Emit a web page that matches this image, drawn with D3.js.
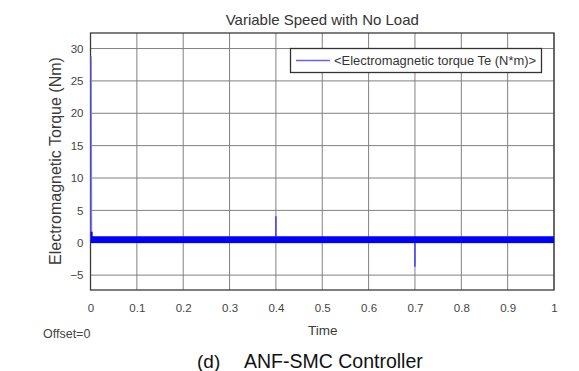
<!DOCTYPE html>
<html><head><meta charset="utf-8">
<script src="https://cdn.jsdelivr.net/npm/d3@7/dist/d3.min.js"></script>
<style>
html,body{margin:0;padding:0;background:#fff;}
text{font-family:"Liberation Sans",Arial,sans-serif;}
</style></head>
<body><svg id="c" width="579" height="371"></svg>
<script>
// ---- data ----
const title = "Variable Speed with No Load";
const xLabel = "Time";
const yLabel = "Electromagnetic Torque (Nm)";
const legendLabel = "<Electromagnetic torque Te (N*m)>";
const caption = ["(d)", "ANF-SMC Controller"];
const offsetLabel = "Offset=0";
const xTicks = [0, 0.1, 0.2, 0.3, 0.4, 0.5, 0.6, 0.7, 0.8, 0.9, 1];
const yTicks = [-5, 0, 5, 10, 15, 20, 25, 30];
const xDomain = [0, 1];
const yDomain = [-7.3, 32.4];
// steady-state ripple band (envelope of the fast oscillation)
const bandTime = [0.002, 0.2, 0.4, 0.6, 0.8, 1.0];
const bandLow  = [-0.05, -0.05, -0.05, -0.05, -0.05, -0.05];
const bandHigh = [1.0, 1.0, 1.0, 1.0, 1.0, 1.0];
// start-up transient
const startTime   = [0.0015, 0.0015, 0.0025, 0.003];
const startTorque = [0.4, 28.8, 1.7, 1.6];
// speed-change spikes
const spikeTime = [0.4, 0.7];
const spikePeak = [4.1, -3.7];

// ---- chart ----
const svg = d3.select("#c");
const L = 90.5, R = 554, T = 33, B = 290;
const x = d3.scaleLinear().domain(xDomain).range([L, R]);
const y = d3.scaleLinear().domain(yDomain).range([B, T]);

// grid
const g = svg.append("g");
g.selectAll(".gx").data(xTicks).join("line")
  .attr("x1", d => x(d)).attr("x2", d => x(d)).attr("y1", T).attr("y2", B)
  .attr("stroke", "#808080").attr("stroke-width", 1);
g.selectAll(".gy").data(yTicks).join("line")
  .attr("y1", d => y(d)).attr("y2", d => y(d)).attr("x1", L).attr("x2", R)
  .attr("stroke", "#808080").attr("stroke-width", 1);

// axes labels via d3 axes (no domain lines)
const xAxis = svg.append("g").attr("transform", `translate(0,${B})`)
  .call(d3.axisBottom(x).tickValues(xTicks).tickSize(0).tickPadding(14)
    .tickFormat(d => d === 0 || d === 1 ? d3.format("d")(d) : d3.format(".1f")(d)));
xAxis.select(".domain").remove();
xAxis.selectAll("text").attr("font-size", 11.5).attr("fill", "#444")
  .attr("font-family", '"Liberation Sans",Arial,sans-serif');

const yAxis = svg.append("g").attr("transform", `translate(${L},0)`)
  .call(d3.axisLeft(y).tickValues(yTicks).tickSize(0).tickPadding(7));
yAxis.select(".domain").remove();
yAxis.selectAll("text").attr("font-size", 11.5).attr("fill", "#444")
  .attr("font-family", '"Liberation Sans",Arial,sans-serif');

// box
svg.append("rect").attr("x", L).attr("y", T).attr("width", R - L).attr("height", B - T)
  .attr("fill", "none").attr("stroke", "#3a3a3a").attr("stroke-width", 1.3);

// data: band
const band = d3.area().x((d, i) => x(bandTime[i])).y0((d, i) => y(bandLow[i])).y1((d, i) => y(bandHigh[i]));
svg.append("path").datum(bandTime).attr("d", band).attr("fill", "#0000ff");

// start-up transient
const line = d3.line().x(d => x(d[0])).y(d => y(d[1]));
const startPts = startTime.map((t, i) => [t, startTorque[i]]);
svg.append("path").datum(startPts.slice(0, 3)).attr("d", line)
  .attr("fill", "none").attr("stroke", "#7a7aff").attr("stroke-width", 1.2);
svg.append("line").attr("x1", x(startTime[2])).attr("x2", x(startTime[2]))
  .attr("y1", y(startTorque[2])).attr("y2", y(bandLow[0]))
  .attr("stroke", "#0000ff").attr("stroke-width", 2);

// spikes
svg.selectAll(".spk").data(spikeTime).join("line")
  .attr("x1", d => x(d)).attr("x2", d => x(d))
  .attr("y1", (d, i) => y(spikePeak[i] > 0 ? bandHigh[0] : bandLow[0]))
  .attr("y2", (d, i) => y(spikePeak[i]))
  .attr("stroke", "#2a2aff").attr("stroke-width", 1.3);

// legend
const lg = svg.append("g");
lg.append("rect").attr("x", 290.5).attr("y", 48.5).attr("width", 251).attr("height", 24)
  .attr("fill", "#fff").attr("stroke", "#333").attr("stroke-width", 1.3);
lg.append("line").attr("x1", 296).attr("x2", 330).attr("y1", 60.5).attr("y2", 60.5)
  .attr("stroke", "#6060ff").attr("stroke-width", 1.5);
lg.append("text").attr("x", 334).attr("y", 65).attr("font-size", 12).attr("fill", "#333")
  .attr("textLength", 202).attr("lengthAdjust", "spacingAndGlyphs")
  .text(legendLabel);

// title
svg.append("text").attr("x", (L + R) / 2).attr("y", 25).attr("text-anchor", "middle")
  .attr("font-size", 15).attr("fill", "#333").text(title);

// axis titles
svg.append("text").attr("x", (L + R) / 2 + 0.5).attr("y", 335).attr("text-anchor", "middle")
  .attr("font-size", 13.5).attr("fill", "#3a3a3a").text(xLabel);
svg.append("text").attr("transform", `translate(61,161) rotate(-90)`).attr("text-anchor", "middle")
  .attr("font-size", 16).attr("fill", "#3a3a3a").text(yLabel);

svg.append("text").attr("x", 43).attr("y", 338).attr("font-size", 12.5).attr("fill", "#444")
  .text(offsetLabel);

// caption
svg.append("text").attr("x", 197).attr("y", 368).attr("font-size", 19).attr("fill", "#111").text(caption[0]);
svg.append("text").attr("x", 244).attr("y", 368).attr("font-size", 19.5).attr("fill", "#111").text(caption[1]);
</script></body></html>
